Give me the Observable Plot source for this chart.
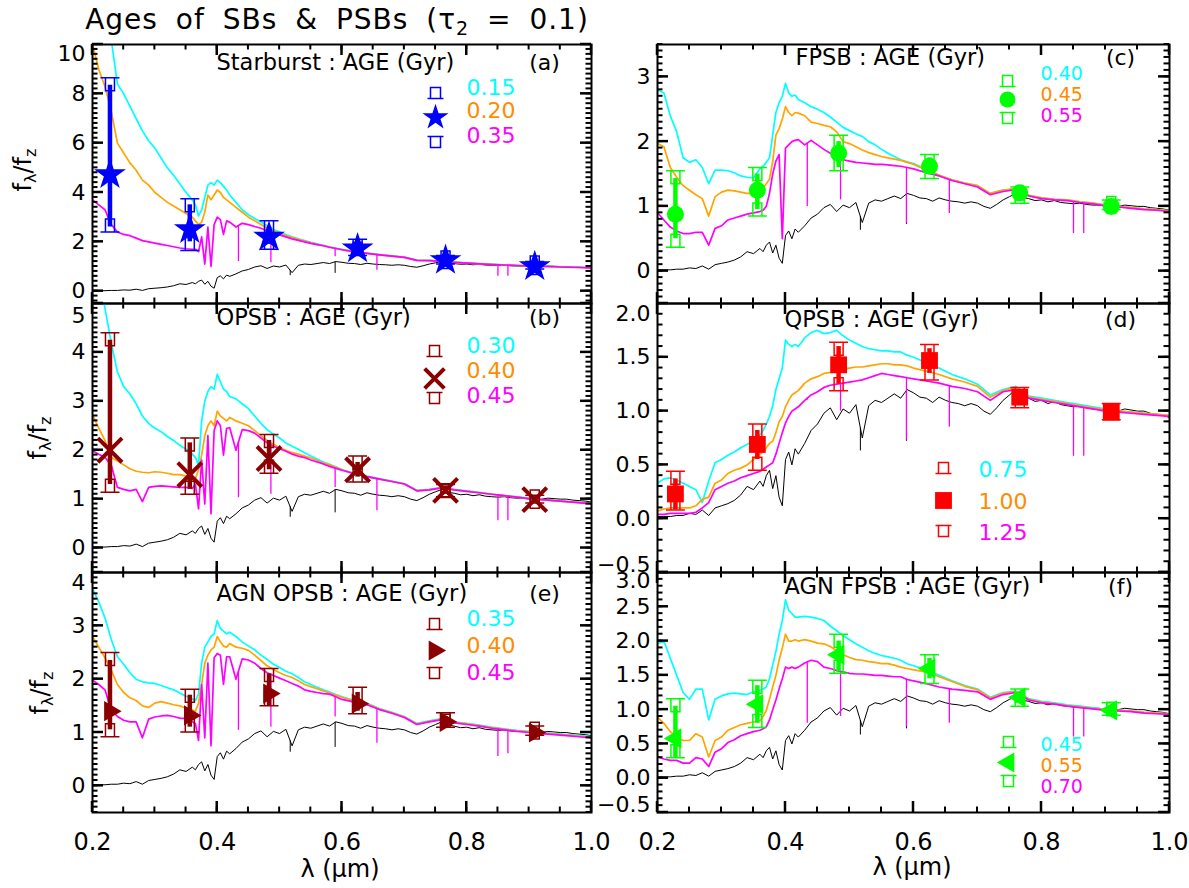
<!DOCTYPE html>
<html><head><meta charset="utf-8">
<script src="https://cdn.jsdelivr.net/npm/d3@7"></script>
<script src="https://cdn.jsdelivr.net/npm/@observablehq/plot@0.6"></script>
<style>
body{margin:0;background:#fff;}
#root{position:relative;width:1189px;height:888px;font-family:"DejaVu Sans",sans-serif;color:#000;overflow:hidden;}
#root svg{position:absolute;left:0;top:0;}
.lbl{position:absolute;white-space:nowrap;line-height:1;}
.ylab{font-size:24px;transform:translate(-50%,-50%) rotate(-90deg);}
.ylab sub{font-size:16px;vertical-align:-5px;}
.xlab{font-size:24px;transform:translate(-50%,-50%);}
.title{font-size:28px;letter-spacing:1px;word-spacing:8px;transform:translateX(-50%);}
.title sub{font-size:19px;vertical-align:-6px;}
</style></head><body><div id="root"></div>
<script>
// ---------- wavelength grids (micron) ----------
const G = [0.20,0.21,0.22,0.23,0.24,0.25,0.26,0.27,0.28,0.29,0.30,0.31,0.32,0.33,0.34,0.35,0.36,
  0.365,0.37,0.375,0.38,0.385,0.39,0.395,0.40,0.405,0.41,0.415,
  0.42,0.43,0.44,0.45,0.46,0.47,0.48,0.49,0.50,0.51,0.52,0.53,0.54,0.55,0.56,0.57,0.58,0.59,0.60,
  0.62,0.64,0.66,0.68,0.70,0.72,0.74,0.76,0.78,0.80,0.82,0.84,0.86,0.88,0.90,0.92,0.94,0.96,0.98,1.00];
const BL = [0.20,0.21,0.22,0.23,0.24,0.25,0.26,0.27,0.28,0.29,0.30,0.31,0.32,0.33,0.34,0.35,0.36,
  0.365,0.37,0.375,0.38,0.385,0.39,0.395,0.40,0.405,0.41,0.415,
  0.42,0.43,0.44,0.45,0.46,0.47,0.48,0.49,0.50,0.51,0.52,0.53,0.54,0.55,0.56,0.57,0.58,0.59,
  0.60,0.61,0.62,0.63,0.64,0.65,0.66,0.67,0.68,0.69,0.70,0.71,0.72,0.73,0.74,0.75,0.76,0.77,0.78,0.79,
  0.80,0.81,0.82,0.83,0.84,0.85,0.86,0.87,0.88,0.89,0.90,0.91,0.92,0.93,0.94,0.95,0.96,0.97,0.98,0.99,1.00];

// ---------- old-population template (black, same in every panel) ----------
const black = [0.02,0.02,0.02,0.03,0.03,0.05,0.04,0.08,0.03,0.1,0.12,0.14,0.17,0.22,0.3,0.27,0.35,
  0.3,0.4,0.45,0.28,0.4,0.2,0.12,0.55,0.62,0.5,0.65,
  0.6,0.7,0.82,0.88,0.98,1.03,0.92,1.02,0.98,1.06,0.75,1.05,1.1,1.08,1.12,1.16,1.12,1.2,
  1.17,1.13,1.12,1.08,1.13,1.1,1.08,1.07,1.05,1.07,1.05,1.0,0.97,1.03,1.1,1.15,1.2,1.14,1.12,1.09,
  1.1,1.07,1.09,1.06,1.05,1.04,1.05,1.03,1.02,1.02,1.0,1.0,1.0,1.02,1.01,1.0,1.0,0.98,0.97,0.96,0.94];
const blackDipLam = [0.517, 0.589];
const blackDipBot = [0.63, 0.72];

// ---------- model spectra (cyan / orange / magenta) ----------
const cyanA = [15.0,13.5,11.8,10.2,8.4,8.0,7.5,7.0,6.5,6.1,5.8,5.4,5.0,4.7,4.35,4.0,3.7,
  3.5,3.05,3.3,3.8,4.3,4.4,4.3,4.5,4.4,4.25,4.1,
  3.9,3.6,3.3,3.1,2.95,2.8,2.65,2.5,2.4,2.3,2.2,2.12,2.05,1.98,1.92,1.86,1.8,1.75,1.7,
  1.6,1.54,1.48,1.43,1.38,1.26,1.25,1.22,1.18,1.15,1.12,1.1,1.07,1.05,1.03,1.01,1.0,0.98,0.97,0.95];
const orangeA = [10.0,9.0,8.3,7.3,6.0,5.6,5.2,4.9,4.5,4.3,4.0,3.8,3.6,3.45,3.3,3.15,3.0,
  2.85,2.7,2.8,3.2,3.9,3.7,3.9,4.1,4.0,3.8,3.7,
  3.6,3.4,3.2,3.0,2.85,2.7,2.55,2.45,2.35,2.25,2.17,2.1,2.03,1.96,1.9,1.84,1.78,1.73,1.68,
  1.59,1.53,1.47,1.42,1.37,1.25,1.24,1.21,1.17,1.14,1.11,1.09,1.06,1.04,1.02,1.0,0.99,0.97,0.96,0.94];
const magentaA = [3.7,3.5,3.3,2.7,2.4,2.3,2.25,2.15,2.05,2.0,1.95,1.9,1.85,1.8,1.75,1.72,1.7,
  1.7,1.6,2.2,1.1,2.6,1.0,2.7,3.0,2.9,2.3,2.85,
  2.8,2.6,2.75,2.7,2.62,2.55,2.45,2.35,2.28,2.2,2.12,2.06,2.0,1.94,1.89,1.84,1.78,1.73,1.68,
  1.59,1.53,1.47,1.42,1.37,1.25,1.24,1.21,1.17,1.14,1.11,1.08,1.06,1.04,1.02,1.0,0.99,0.97,0.96,0.94];

const cyanB = [6.2,5.6,4.9,4.2,3.6,3.3,3.15,2.95,2.7,2.55,2.45,2.38,2.28,2.2,2.1,2.02,1.92,
  1.85,1.7,2.6,3.0,3.2,3.3,3.25,3.55,3.4,3.25,3.2,
  3.1,3.05,2.95,2.85,2.7,2.55,2.42,2.33,2.25,2.15,2.08,2.02,1.95,1.88,1.82,1.76,1.71,1.66,1.6,
  1.53,1.47,1.42,1.37,1.32,1.18,1.2,1.24,1.2,1.17,1.14,1.1,1.07,1.05,1.01,0.99,0.97,0.95,0.93,0.9];
const orangeB = [2.73,2.45,2.2,1.85,1.78,1.7,1.62,1.57,1.55,1.54,1.56,1.55,1.53,1.5,1.5,1.47,1.44,
  1.42,1.6,1.9,2.3,2.5,2.6,2.5,2.8,2.7,2.65,2.6,
  2.67,2.6,2.55,2.5,2.4,2.3,2.2,2.12,2.05,2.0,1.95,1.92,1.88,1.84,1.79,1.74,1.7,1.65,1.6,
  1.52,1.46,1.41,1.36,1.31,1.17,1.19,1.23,1.19,1.16,1.13,1.1,1.07,1.04,1.01,0.99,0.97,0.95,0.93,0.9];
const magentaB = [1.99,1.92,1.85,1.7,1.24,1.2,1.17,1.2,0.95,1.24,1.26,1.27,1.26,1.25,1.24,1.24,1.22,
  1.3,0.8,1.8,0.9,2.3,0.7,2.4,2.6,2.5,1.9,2.45,
  2.46,2.0,2.42,2.4,2.35,2.25,2.15,2.08,2.03,1.98,1.92,1.88,1.85,1.8,1.76,1.72,1.67,1.63,1.59,
  1.52,1.46,1.41,1.36,1.31,1.17,1.19,1.23,1.19,1.16,1.13,1.1,1.07,1.04,1.01,0.99,0.97,0.95,0.93,0.9];

const cyanE = [3.7,3.45,3.15,2.75,2.42,2.28,2.12,2.0,1.95,1.93,1.92,1.88,1.84,1.8,1.74,1.68,1.63,
  1.6,1.72,2.3,2.6,2.7,2.8,2.85,3.1,2.95,2.9,2.85,
  2.88,2.8,2.7,2.62,2.55,2.45,2.37,2.28,2.22,2.15,2.1,2.03,1.95,1.9,1.85,1.8,1.76,1.71,1.67,
  1.6,1.55,1.45,1.38,1.3,1.17,1.22,1.26,1.2,1.17,1.14,1.1,1.07,1.04,1.02,1.0,0.98,0.96,0.94,0.92];
const orangeE = [2.8,2.6,2.4,2.17,1.9,1.75,1.65,1.6,1.5,1.47,1.55,1.58,1.55,1.52,1.5,1.45,1.42,
  1.4,1.55,1.9,2.3,2.45,2.55,2.6,2.8,2.7,2.62,2.6,
  2.67,2.6,2.58,2.54,2.45,2.35,2.25,2.18,2.12,2.07,2.03,1.97,1.9,1.86,1.82,1.78,1.74,1.7,1.66,
  1.59,1.54,1.44,1.37,1.29,1.16,1.21,1.25,1.19,1.16,1.13,1.09,1.06,1.03,1.01,0.99,0.97,0.95,0.93,0.91];
const magentaE = [1.98,1.9,1.8,1.42,1.3,1.23,1.2,1.2,0.9,1.25,1.29,1.31,1.32,1.3,1.27,1.26,1.2,
  1.17,0.85,1.9,0.9,2.3,0.75,2.4,2.48,2.45,1.9,2.42,
  2.42,2.0,2.38,2.36,2.3,2.2,2.12,2.07,2.02,1.97,1.92,1.87,1.8,1.77,1.75,1.73,1.72,1.67,1.62,
  1.57,1.52,1.43,1.36,1.28,1.15,1.2,1.24,1.18,1.15,1.12,1.08,1.05,1.02,1.0,0.98,0.96,0.94,0.92,0.9];

const cyanC = [2.8,2.75,2.4,2.15,1.75,1.68,1.72,1.6,1.35,1.56,1.56,1.55,1.52,1.47,1.45,1.44,1.58,
  1.62,1.68,1.75,2.1,2.45,2.6,2.7,2.9,2.75,2.7,2.72,
  2.65,2.6,2.54,2.5,2.45,2.38,2.3,2.22,2.17,2.12,2.08,2.0,1.95,1.88,1.82,1.77,1.72,1.69,1.66,
  1.57,1.48,1.41,1.36,1.32,1.2,1.25,1.27,1.17,1.13,1.11,1.1,1.07,1.05,1.02,1.0,0.98,0.96,0.95,0.93];
const orangeC = [1.97,1.92,1.6,1.45,1.32,1.25,1.18,1.12,0.85,1.15,1.22,1.25,1.24,1.22,1.2,1.2,1.25,
  1.28,1.35,1.42,1.7,2.1,2.2,2.35,2.54,2.45,2.4,2.45,
  2.44,2.4,2.3,2.28,2.25,2.23,2.15,2.0,1.97,1.92,1.87,1.83,1.8,1.77,1.75,1.73,1.71,1.68,1.65,
  1.56,1.48,1.41,1.36,1.32,1.2,1.25,1.27,1.17,1.13,1.11,1.1,1.07,1.05,1.02,1.0,0.98,0.96,0.95,0.93];
const magentaC = [0.9,0.79,0.68,0.62,0.58,0.58,0.6,0.6,0.4,0.66,0.7,0.79,0.82,0.85,0.88,0.9,0.92,
  0.94,1.0,1.2,1.5,1.7,1.8,0.5,1.9,1.95,2.0,2.02,
  2.03,1.95,2.02,1.95,1.88,1.82,1.75,1.72,1.7,1.68,1.67,1.66,1.65,1.65,1.64,1.63,1.62,1.6,1.58,
  1.52,1.47,1.4,1.35,1.3,1.18,1.23,1.26,1.16,1.12,1.1,1.09,1.06,1.04,1.01,0.99,0.97,0.95,0.94,0.92];

const cyanD = [0.33,0.37,0.38,0.36,0.33,0.3,0.27,0.15,0.35,0.52,0.55,0.59,0.62,0.66,0.69,0.73,0.78,
  0.82,0.88,0.95,1.05,1.2,1.3,1.4,1.66,1.62,1.6,1.62,
  1.6,1.68,1.73,1.75,1.72,1.73,1.75,1.7,1.66,1.63,1.6,1.58,1.57,1.56,1.56,1.55,1.55,1.52,1.5,
  1.45,1.4,1.34,1.3,1.25,1.15,1.2,1.23,1.14,1.12,1.1,1.08,1.06,1.04,1.02,1.0,0.99,0.98,0.97,0.96];
const orangeD = [0.07,0.09,0.1,0.1,0.1,0.1,0.12,0.18,0.2,0.33,0.36,0.42,0.45,0.47,0.5,0.55,0.6,
  0.62,0.66,0.7,0.72,0.8,0.9,0.95,1.04,1.1,1.15,1.17,
  1.19,1.26,1.3,1.32,1.35,1.36,1.38,1.39,1.4,1.41,1.41,1.42,1.43,1.44,1.44,1.43,1.43,1.42,1.4,
  1.37,1.34,1.3,1.27,1.23,1.13,1.19,1.22,1.13,1.11,1.09,1.07,1.05,1.03,1.01,1.0,0.99,0.98,0.97,0.96];
const magentaD = [0.04,0.04,0.05,0.05,0.05,0.05,0.06,0.1,0.15,0.27,0.3,0.33,0.35,0.38,0.4,0.42,0.44,
  0.46,0.48,0.5,0.52,0.6,0.7,0.8,0.89,0.95,1.0,1.02,
  1.04,1.1,1.15,1.18,1.22,1.24,1.25,1.26,1.27,1.28,1.29,1.31,1.33,1.35,1.34,1.33,1.32,1.31,1.3,
  1.28,1.26,1.23,1.21,1.18,1.1,1.18,1.2,1.12,1.1,1.08,1.06,1.04,1.02,1.0,0.99,0.98,0.97,0.96,0.95];

const cyanF = [1.96,2.0,1.75,1.5,1.25,1.15,1.3,1.3,0.85,1.15,1.2,1.23,1.24,1.23,1.22,1.26,1.28,
  1.3,1.33,1.45,1.65,1.85,2.1,2.3,2.6,2.45,2.4,2.35,
  2.35,2.36,2.35,2.33,2.3,2.22,2.15,2.08,2.02,1.96,1.91,1.86,1.82,1.79,1.77,1.75,1.72,1.67,1.64,
  1.58,1.5,1.42,1.35,1.3,1.18,1.25,1.27,1.16,1.12,1.1,1.07,1.05,1.03,1.0,0.99,0.98,0.96,0.95,0.94];
const orangeF = [0.89,0.8,0.68,0.6,0.55,0.55,0.65,0.6,0.31,0.55,0.6,0.7,0.74,0.78,0.8,0.82,0.84,
  0.9,0.99,1.15,1.33,1.5,1.72,1.9,2.1,2.0,2.0,2.02,
  2.0,2.02,2.0,1.97,1.96,1.92,1.86,1.8,1.76,1.73,1.72,1.7,1.69,1.67,1.67,1.65,1.62,1.6,1.58,
  1.55,1.48,1.41,1.34,1.29,1.17,1.24,1.26,1.15,1.11,1.09,1.06,1.04,1.02,1.0,0.99,0.98,0.96,0.95,0.94];
const magentaF = [0.31,0.28,0.26,0.26,0.22,0.22,0.3,0.28,0.17,0.38,0.43,0.52,0.56,0.62,0.65,0.68,0.7,
  0.72,0.75,0.85,1.0,1.14,1.3,1.45,1.62,1.6,1.62,1.6,
  1.62,1.68,1.72,1.7,1.62,1.6,1.57,1.55,1.53,1.52,1.52,1.51,1.5,1.5,1.49,1.48,1.48,1.44,1.42,
  1.38,1.33,1.3,1.28,1.26,1.15,1.22,1.25,1.14,1.1,1.08,1.05,1.03,1.01,0.99,0.98,0.97,0.95,0.94,0.93];

// narrow absorption lines in the magenta models: wavelength and depth reached
const dipLam = [0.434, 0.486, 0.589, 0.656, 0.850, 0.866];
const dipA = [1.2, 1.15, 1.4, 0.85, 0.6, 0.6];
const dipB = [1.03, 1.1, 1.24, 0.76, 0.56, 0.56];
const dipE = [1.04, 1.1, 1.29, 0.8, 0.55, 0.6];
const dipC = [1.0, 1.1, 0.73, 0.89, 0.58, 0.58];
const dipD = [1.1, 1.0, 0.73, 0.85, 0.58, 0.58];
const dipF = [0.8, 0.9, 0.75, 0.8, 0.6, 0.6];

// ---------- photometry points ----------
const ptLam = [0.228, 0.356, 0.483, 0.625, 0.766, 0.909];
const valA = [4.73, 2.5, 2.2, 1.72, 1.25, 1.0];
const loA  = [2.6, 2.0, 1.9, 1.5, 1.12, 0.92];
const hiA  = [8.35, 3.5, 2.6, 1.95, 1.4, 1.12];
const topA = [8.65, 3.75, 2.85, 2.1, 1.45, 1.2];
const botA = [2.4, 1.65, 1.7, 1.45, 1.1, 0.9];

const valB = [2.0, 1.5, 1.83, 1.6, 1.18, 0.99];
const loB  = [1.3, 1.2, 1.6, 1.45, 1.1, 0.94];
const hiB  = [4.25, 2.15, 2.2, 1.75, 1.27, 1.05];
const topB = [4.4, 2.25, 2.32, 1.88, 1.3, 1.08];
const botB = [1.14, 1.1, 1.53, 1.35, 1.05, 0.92];

const valE = [1.4, 1.32, 1.73, 1.54, 1.2, 1.0];
const loE  = [1.05, 1.1, 1.5, 1.4, 1.12, 0.95];
const hiE  = [2.35, 1.7, 2.1, 1.75, 1.3, 1.07];
const topE = [2.5, 1.81, 2.2, 1.85, 1.37, 1.12];
const botE = [0.92, 1.01, 1.5, 1.35, 1.1, 0.95];

const valC = [0.88, 1.25, 1.82, 1.62, 1.21, 1.0];
const loC  = [0.5, 0.95, 1.6, 1.5, 1.12, 0.95];
const hiC  = [1.43, 1.5, 2.0, 1.75, 1.27, 1.05];
const topC = [1.55, 1.6, 2.1, 1.8, 1.3, 1.1];
const botC = [0.37, 0.85, 1.55, 1.43, 1.05, 0.95];

const valD = [0.23, 0.69, 1.43, 1.47, 1.13, 0.99];
const loD  = [0.08, 0.55, 1.25, 1.35, 1.06, 0.95];
const hiD  = [0.37, 0.82, 1.6, 1.58, 1.2, 1.05];
const topD = [0.44, 0.88, 1.64, 1.62, 1.22, 1.07];
const botD = [0.08, 0.45, 1.19, 1.29, 1.03, 0.92];

const valF = [0.58, 1.08, 1.8, 1.6, 1.18, 0.99];
const loF  = [0.3, 0.8, 1.55, 1.45, 1.1, 0.95];
const hiF  = [1.05, 1.35, 2.0, 1.75, 1.25, 1.05];
const topF = [1.16, 1.43, 2.1, 1.8, 1.3, 1.1];
const botF = [0.3, 0.74, 1.53, 1.38, 1.05, 0.92];

// ---------- texts ----------
const agesA = ["0.15", "0.20", "0.35"];
const agesB = ["0.30", "0.40", "0.45"];
const agesE = ["0.35", "0.40", "0.45"];
const agesC = ["0.40", "0.45", "0.55"];
const agesD = ["0.75", "1.00", "1.25"];
const agesF = ["0.45", "0.55", "0.70"];
const headA = "Starburst : AGE (Gyr)", headB = "OPSB : AGE (Gyr)", headE = "AGN OPSB : AGE (Gyr)";
const headC = "FPSB : AGE (Gyr)", headD = "QPSB : AGE (Gyr)", headF = "AGN FPSB : AGE (Gyr)";
const xDomain = [0.2, 1.0];
const xTicks = [0.2, 0.4, 0.6, 0.8, 1.0];
const yTicksA = [0, 2, 4, 6, 8, 10], yTicksB = [0, 1, 2, 3, 4, 5], yTicksE = [0, 1, 2, 3, 4];
const yTicksC = [0, 1, 2, 3], yTicksD = [-0.5, 0, 0.5, 1.0, 1.5, 2.0], yTicksF = [-0.5, 0, 0.5, 1.0, 1.5, 2.0, 2.5, 3.0];

// ---------- layout ----------
const W = 1189, H = 888;
const COLS = [[92, 591], [657, 1169]];
const ROWS = [[44, 303], [303, 572], [572, 812]];
const CYAN = "#00ffff", ORANGE = "#ffa500", MAGENTA = "#ff00ff";
const AGECOL = ["#00ffff", "#ff8c00", "#ff00ff"];
const FONT = "DejaVu Sans, sans-serif";

function interp(xs, ys, x) {
  const i = Math.max(0, Math.min(xs.length - 2, d3.bisectRight(xs, x) - 1));
  const t = (x - xs[i]) / (xs[i + 1] - xs[i]);
  return ys[i] + t * (ys[i + 1] - ys[i]);
}
// square with a cap line; origin = cap line; dir +1: square below line, -1: square above line
function capSym(dir, w, h, L) {
  return {draw(ctx) {
    ctx.moveTo(-L, 0); ctx.lineTo(L, 0);
    if (dir > 0) ctx.rect(-w / 2, 0, w, h); else ctx.rect(-w / 2, -h, w, h);
  }};
}
const capDown = capSym(1, 9, 13, 9.5), capUp = capSym(-1, 9, 13, 9.5);
const legDown = capSym(1, 10, 11, 8), legUp = capSym(-1, 10, 11, 8);

const panels = [
  {col: 0, row: 0, y: [-0.5, 10], yt: yTicksA, minor: 0.2, fmt: d3.format("d"), cyan: cyanA, orange: orangeA, magenta: magentaA, dips: dipA,
   val: valA, lo: loA, hi: hiA, top: topA, bot: botA, color: "#0000ff", sym: "star", r: 10, lr: 8.2, rot: 0, stroke: false,
   ages: agesA, head: headA, letter: "(a)", hdx: 124, hdy: 18, ldx: -47, topShift: 9, lfs: 22,
   leg: {tx: -125, ty: [43, 66, 91], sx: -156, s: [54, 73, 92]}, xlab: false},
  {col: 0, row: 1, y: [-0.5, 5], yt: yTicksB, minor: 0.1, fmt: d3.format("d"), cyan: cyanB, orange: orangeB, magenta: magentaB, dips: dipB,
   val: valB, lo: loB, hi: hiB, top: topB, bot: botB, color: "#8b0000", sym: "times", r: 11, lr: 9, rot: 0, stroke: true,
   ages: agesB, head: headB, letter: "(b)", hdx: 124, hdy: 14, ldx: -47, topShift: 12, lfs: 22,
   leg: {tx: -125, ty: [42, 67, 92], sx: -157, s: [53, 75, 89]}, xlab: false},
  {col: 0, row: 2, y: [-0.5, 4], yt: yTicksE, minor: 0.1, fmt: d3.format("d"), cyan: cyanE, orange: orangeE, magenta: magentaE, dips: dipE,
   val: valE, lo: loE, hi: hiE, top: topE, bot: botE, color: "#8b0000", sym: "triangle", r: 7.5, lr: 7.5, rot: 90, stroke: false,
   ages: agesE, head: headE, letter: "(e)", hdx: 124, hdy: 21, ldx: -47, topShift: 10, lfs: 22,
   leg: {tx: -125, ty: [46, 73, 100], sx: -157, s: [57, 78, 95]}, xlab: true},
  {col: 1, row: 0, y: [-0.5, 3.5], yt: yTicksC, minor: 0.1, fmt: d3.format("d"), cyan: cyanC, orange: orangeC, magenta: magentaC, dips: dipC,
   val: valC, lo: loC, hi: hiC, top: topC, bot: botC, color: "#00ff00", sym: "circle", r: 8.5, lr: 8, rot: 0, stroke: false,
   ages: agesC, head: headC, letter: "(c)", hdx: 138, hdy: 13, ldx: -49, topShift: 0, lfs: 19,
   leg: {tx: -129, ty: [29, 50, 71], sx: -162, s: [42, 55, 68]}, xlab: false},
  {col: 1, row: 1, y: [-0.5, 2.0], yt: yTicksD, minor: 0.1, fmt: d3.format(".1f"), cyan: cyanD, orange: orangeD, magenta: magentaD, dips: dipD,
   val: valD, lo: loD, hi: hiD, top: topD, bot: botD, color: "#ff0000", sym: "square", r: 9.5, lr: 9.5, rot: 0, stroke: false,
   ages: agesD, head: headD, letter: "(d)", hdx: 127, hdy: 16, ldx: -49, topShift: 10, lfs: 22,
   leg: {tx: -191, ty: [166, 198, 229], sx: -226, s: [170, 197, 222]}, xlab: false},
  {col: 1, row: 2, y: [-0.5, 3.0], yt: yTicksF, minor: 0.1, fmt: d3.format(".1f"), cyan: cyanF, orange: orangeF, magenta: magentaF, dips: dipF,
   val: valF, lo: loF, hi: hiF, top: topF, bot: botF, color: "#00ff00", sym: "triangle", r: 7.5, lr: 7.5, rot: -90, stroke: false,
   ages: agesF, head: headF, letter: "(f)", hdx: 127, hdy: 14, ldx: -49, topShift: 8, lfs: 19,
   leg: {tx: -129, ty: [172, 193, 214], sx: -161, s: [175, 190, 203]}, xlab: true}
];

function markStyle(P) {
  return P.stroke ? {stroke: P.color, strokeWidth: 4, fill: "none"} : {fill: P.color, stroke: "none"};
}

function makePanel(P) {
  const [x0, x1] = COLS[P.col], [y0, y1] = ROWS[P.row];
  const yMinor = d3.range(Math.round(P.y[0] / P.minor), Math.round(P.y[1] / P.minor) + 1).map(k => +(k * P.minor).toFixed(3));
  const xMinor = d3.range(4, 21).map(k => +(k * 0.05).toFixed(3));
  const anchorFree = {x: null, y: null, frameAnchor: "top-right"};
  const ytMid = P.yt.filter(v => v !== P.y[0] && v !== P.y[1]);
  const ytTop = P.yt.filter(v => v === P.y[1]);
  const ytBot = P.yt.filter(v => v === P.y[0]);
  const marks = [
    Plot.line(black, {x: BL, y: d => d, stroke: "black", strokeWidth: 1, clip: true}),
    Plot.ruleX(blackDipLam, {x: d => d, y1: blackDipBot, y2: blackDipLam.map(l => interp(BL, black, l)), stroke: "black", strokeWidth: 1, clip: true}),
    Plot.line(P.cyan, {x: G, y: d => d, stroke: CYAN, strokeWidth: 1.7, clip: true}),
    Plot.line(P.orange, {x: G, y: d => d, stroke: ORANGE, strokeWidth: 1.7, clip: true}),
    Plot.line(P.magenta, {x: G, y: d => d, stroke: MAGENTA, strokeWidth: 1.7, clip: true}),
    Plot.ruleX(dipLam, {x: d => d, y1: P.dips, y2: dipLam.map(l => interp(G, P.magenta, l)), stroke: MAGENTA, strokeWidth: 1.3, clip: true}),
    // photometry
    Plot.ruleX(ptLam, {x: d => d, y1: P.lo, y2: P.hi, stroke: P.color, strokeWidth: 4.5}),
    Plot.dot(ptLam, {x: d => d, y: P.top, symbol: capDown, r: 5, stroke: P.color, fill: "none", strokeWidth: 1.5}),
    Plot.dot(ptLam, {x: d => d, y: P.bot, symbol: capUp, r: 5, stroke: P.color, fill: "none", strokeWidth: 1.5}),
    Plot.dot(ptLam, {x: d => d, y: P.val, symbol: P.sym, r: P.r, rotate: P.rot, ...markStyle(P)}),
    Plot.frame({stroke: "black", strokeWidth: 2}),
    // tick labels
    Plot.axisY(ytMid, {anchor: "left", tickSize: 0, tickPadding: 7, tickFormat: P.fmt, fontSize: 22, label: null}),
    // header
    Plot.text([P.head], {x: null, y: null, frameAnchor: "top-left", dx: P.hdx, dy: P.hdy, text: d => d, textAnchor: "start", lineAnchor: "middle", fontSize: 22.5}),
    Plot.text([P.letter], {x: null, y: null, frameAnchor: "top-right", dx: P.ldx, dy: P.hdy, text: d => d, textAnchor: "middle", lineAnchor: "middle", fontSize: 22}),
    // legend
    ...P.ages.map((a, i) => Plot.text([a], {...anchorFree, dx: P.leg.tx, dy: P.leg.ty[i], text: d => d, fill: AGECOL[i], textAnchor: "start", lineAnchor: "middle", fontSize: P.lfs})),
    Plot.dot([0], {...anchorFree, dx: P.leg.sx, dy: P.leg.s[0], symbol: legUp, r: 5, stroke: P.color, fill: "none", strokeWidth: 1.5}),
    Plot.dot([0], {...anchorFree, dx: P.leg.sx, dy: P.leg.s[1], symbol: P.sym, r: P.lr, rotate: P.rot, ...markStyle(P)}),
    Plot.dot([0], {...anchorFree, dx: P.leg.sx, dy: P.leg.s[2], symbol: legDown, r: 5, stroke: P.color, fill: "none", strokeWidth: 1.5})
  ];
  if (ytTop.length) marks.push(Plot.axisY(ytTop, {anchor: "left", tickSize: 0, tickPadding: 7, dy: P.topShift, tickFormat: P.fmt, fontSize: 22, label: null}));
  if (ytBot.length) marks.push(Plot.axisY(ytBot, {anchor: "left", tickSize: 0, tickPadding: 7, dy: -8, tickFormat: P.fmt, fontSize: 22, label: null}));
  if (P.xlab) marks.push(Plot.axisX(xTicks, {anchor: "bottom", tickSize: 0, tickPadding: 20, tickFormat: d3.format(".1f"), fontSize: 24, label: null}));
  const svg = Plot.plot({
    width: W, height: H,
    marginLeft: x0, marginRight: W - x1, marginTop: y0, marginBottom: H - y1,
    style: {background: "transparent", fontFamily: FONT, color: "black", overflow: "visible"},
    x: {domain: xDomain, axis: null},
    y: {domain: P.y, axis: null},
    marks
  });
  // inward tick marks on all four sides, placed with the plot's own x / y scales
  const sx = svg.scale("x"), sy = svg.scale("y");
  const g = d3.select(svg).append("g").attr("class", "inward-ticks").attr("stroke", "#000").attr("fill", "none");
  const px0 = sx.apply(xDomain[0]), px1 = sx.apply(xDomain[1]);
  const py0 = sy.apply(P.y[0]), py1 = sy.apply(P.y[1]);
  const seg = (xa, ya, xb, yb, w) => g.append("line").attr("x1", xa).attr("y1", ya).attr("x2", xb).attr("y2", yb).attr("stroke-width", w);
  const MAJ = 11, MIN = 5.5;
  for (const v of xMinor) { const X = sx.apply(v); seg(X, py0, X, py0 - MIN, 2); seg(X, py1, X, py1 + MIN, 2); }
  for (const v of xTicks) { const X = sx.apply(v); seg(X, py0, X, py0 - MAJ, 2.5); seg(X, py1, X, py1 + MAJ, 2.5); }
  for (const v of yMinor) { const Y = sy.apply(v); seg(px0, Y, px0 + MIN, Y, 2); seg(px1, Y, px1 - MIN, Y, 2); }
  for (const v of P.yt) { const Y = sy.apply(v); seg(px0, Y, px0 + MAJ, Y, 2.5); seg(px1, Y, px1 - MAJ, Y, 2.5); }
  return svg;
}

const root = document.getElementById("root");
for (const P of panels) root.appendChild(makePanel(P));

function addLabel(cls, html, left, top) {
  const d = document.createElement("div");
  d.className = "lbl " + cls; d.innerHTML = html;
  d.style.left = left + "px"; d.style.top = top + "px";
  root.appendChild(d);
}
addLabel("title", "Ages of SBs &amp; PSBs (&tau;<sub>2</sub> = 0.1)", 337, 6);
addLabel("ylab", "f<sub>&lambda;</sub>/f<sub>z</sub>", 25, 170);
addLabel("ylab", "f<sub>&lambda;</sub>/f<sub>z</sub>", 40, 438);
addLabel("ylab", "f<sub>&lambda;</sub>/f<sub>z</sub>", 42, 693);
addLabel("xlab", "&lambda; (&mu;m)", 340, 869);
addLabel("xlab", "&lambda; (&mu;m)", 912, 867);
</script></body></html>
